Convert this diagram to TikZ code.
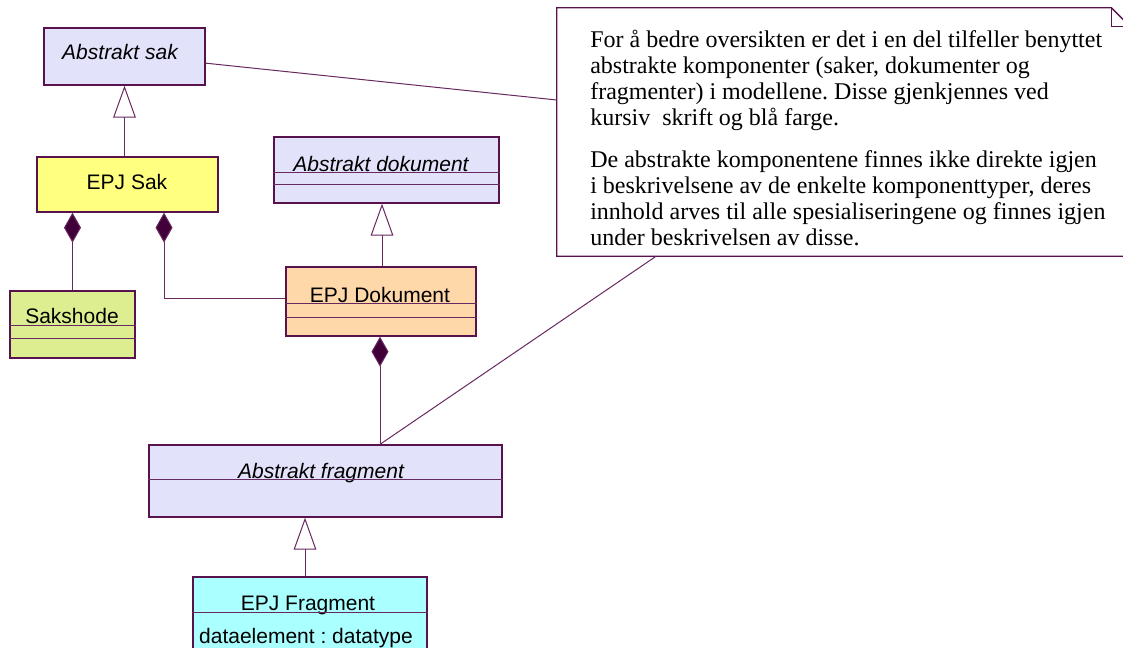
\documentclass[tikz,border=0pt]{standalone}
\usepackage{fontspec}
\setmainfont{Liberation Serif}
\setsansfont{Liberation Sans}
\usetikzlibrary{arrows.meta,calc,positioning}
\frenchspacing

\definecolor{umlborder}{RGB}{88,18,78}
\definecolor{umlline}{RGB}{104,40,96}
\definecolor{diamondfill}{RGB}{66,0,58}
\definecolor{abstractfill}{RGB}{226,226,250}
\definecolor{sakfill}{RGB}{255,255,128}
\definecolor{hodefill}{RGB}{221,238,144}
\definecolor{dokfill}{RGB}{255,216,170}
\definecolor{fragfill}{RGB}{170,255,255}

\begin{document}
\begin{tikzpicture}[x=0.75pt,y=-0.75pt,
  cls/.style={draw=umlborder, line width=1pt, rectangle, inner sep=0pt},
  abstract/.style={cls, fill=abstractfill},
  cmp/.style={draw=umlline, line width=0.75pt},
  lbl/.style={font=\sffamily\fontsize{15.75}{18}\selectfont, inner sep=0pt, anchor=base},
  abslbl/.style={lbl, font=\sffamily\itshape\fontsize{15.75}{18}\selectfont},
  notetxt/.style={font=\fontsize{18}{19.5}\selectfont, inner sep=0pt, anchor=base west},
  notebox/.style={draw=umlborder, line width=1pt},
  gen/.style={draw=umlline, line width=0.75pt, -{Triangle[fill=white, length=24pt, width=17pt]}},
  comp/.style={draw=umlline, line width=0.75pt, {Diamond[fill=diamondfill, length=22.5pt, width=12.75pt]}-},
  anchorline/.style={draw=umlline, line width=0.75pt}
]
\useasboundingbox (0,0) rectangle (1123,648);
\clip (0,0) rectangle (1123,648);

% classes
\node[abstract, minimum width=120.75pt, minimum height=42.75pt] (abssak) at (124.5,56.5) {};
\node[abslbl] (abssak-lbl) at (120,60) {Abstrakt sak};

\node[cls, fill=sakfill, minimum width=135.75pt, minimum height=41.25pt] (epjsak) at (127.5,184.5) {};
\node[lbl] (epjsak-lbl) at (127,190) {EPJ Sak};

\node[cls, fill=hodefill, minimum width=93.75pt, minimum height=50.25pt] (sakshode) at (72.5,324.5) {};
\node[lbl] (sakshode-lbl) at (72,324) {Sakshode};
\draw[cmp] ($(sakshode.north west)+(0,35)$) -- ($(sakshode.north east)+(0,35)$);
\draw[cmp] ($(sakshode.north west)+(0,48)$) -- ($(sakshode.north east)+(0,48)$);

\node[abstract, minimum width=168.75pt, minimum height=49.5pt] (absdok) at (386.5,170) {};
\node[abslbl] (absdok-lbl) at (381,172) {Abstrakt dokument};
\draw[cmp] ($(absdok.north west)+(0,36)$) -- ($(absdok.north east)+(0,36)$);
\draw[cmp] ($(absdok.north west)+(0,48)$) -- ($(absdok.north east)+(0,48)$);

\node[cls, fill=dokfill, minimum width=142.5pt, minimum height=51.75pt] (epjdok) at (381,301.5) {};
\node[lbl] (epjdok-lbl) at (380,302) {EPJ Dokument};
\draw[cmp] ($(epjdok.north west)+(0,37)$) -- ($(epjdok.north east)+(0,37)$);
\draw[cmp] ($(epjdok.north west)+(0,51)$) -- ($(epjdok.north east)+(0,51)$);

\node[abstract, minimum width=264.75pt, minimum height=54pt] (absfrag) at (325.5,481) {};
\node[abslbl] (absfrag-lbl) at (321,478) {Abstrakt fragment};
\draw[cmp] ($(absfrag.north west)+(0,35)$) -- ($(absfrag.north east)+(0,35)$);

\node[cls, fill=fragfill, minimum width=175.5pt, minimum height=69.75pt] (epjfrag) at (310,623.5) {};
\node[lbl] (epjfrag-lbl) at (308,610) {EPJ Fragment};
\draw[cmp] ($(epjfrag.north west)+(0,36)$) -- ($(epjfrag.north east)+(0,36)$);
\node[lbl] (epjfrag-attr) at (306,643) {dataelement : datatype};

% note
\node[inner sep=0pt, minimum width=429.75pt, minimum height=186pt] (note) at (843.5,132) {};
\draw[notebox] (note.north west) -- ($(note.north east)+(-19,0)$) -- ($(note.north east)+(0,19)$)
  -- (note.south east) -- (note.south west) -- cycle;
\draw[notebox] ($(note.north east)+(-19,0)$) -- ($(note.north east)+(-19,19)$) -- ($(note.north east)+(0,19)$);
\node[notetxt] (note1) at (590,48) {For å bedre oversikten er det i en del tilfeller benyttet};
\node[notetxt] (note2) at (590,74) {abstrakte komponenter (saker, dokumenter og};
\node[notetxt] (note3) at (590,100) {fragmenter) i modellene. Disse gjenkjennes ved};
\node[notetxt] (note4) at (590,126) {kursiv\ \ skrift og blå farge.};
\node[notetxt] (note5) at (590,168) {De abstrakte komponentene finnes ikke direkte igjen};
\node[notetxt] (note6) at (590,194) {i beskrivelsene av de enkelte komponenttyper, deres};
\node[notetxt] (note7) at (590,220) {innhold arves til alle spesialiseringene og finnes igjen};
\node[notetxt] (note8) at (590,246) {under beskrivelsen av disse.};

% generalisations
\draw[gen] (epjsak.north -| abssak.south) -- (abssak.south);
\draw[gen] ([xshift=0.75pt]epjdok.north) -- ([xshift=0.75pt]epjdok.north |- absdok.south);
\draw[gen] ([xshift=-3.75pt]epjfrag.north) -- ([xshift=-3.75pt]epjfrag.north |- absfrag.south);

% compositions
\draw[comp] (epjsak.south -| sakshode.north) -- (sakshode.north);
\draw[comp] ([xshift=27.4pt]epjsak.south) |- ([yshift=2.6pt]epjdok.west);
\draw[comp] ([xshift=-0.75pt]epjdok.south) -- ([xshift=-0.75pt]epjdok.south |- absfrag.north);

% note anchors
\draw[anchorline] ([yshift=-5pt]abssak.east) -- ([yshift=24pt]note.west);
\draw[anchorline] ([xshift=-0.75pt]epjdok.south |- absfrag.north) -- ([xshift=-140.6pt]note.south);
\end{tikzpicture}
\end{document}
